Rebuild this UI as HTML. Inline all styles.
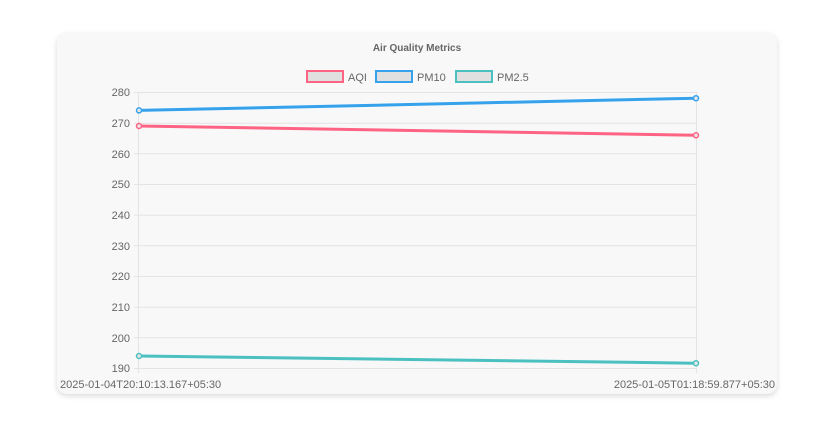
<!DOCTYPE html>
<html><head><style>
body{margin:0;width:828px;height:423px;background:#fff;font-family:"Liberation Sans",Arial,sans-serif;overflow:hidden}
.card{position:absolute;left:57px;top:33px;width:720px;height:361px;background:#f8f8f8;border-radius:10px;box-shadow:0 2px 6px rgba(0,0,0,0.15)}
svg{position:absolute;left:0;top:0}
</style></head><body>
<div class="card"></div>
<svg width="828" height="423" font-family="Liberation Sans, Arial, sans-serif">
<text x="417" y="51" font-size="10" font-weight="bold" fill="#666" text-anchor="middle">Air Quality Metrics</text>
<g font-size="11" fill="#666">
<rect x="307" y="71" width="36" height="11" fill="#e0e0e0" stroke="#ff6384" stroke-width="2"/><text x="348" y="81">AQI</text>
<rect x="376" y="71" width="36" height="11" fill="#e0e0e0" stroke="#36a2eb" stroke-width="2"/><text x="417" y="81">PM10</text>
<rect x="456" y="71" width="36" height="11" fill="#e0e0e0" stroke="#4bc0c0" stroke-width="2"/><text x="497" y="81">PM2.5</text>
</g>
<g stroke="#e4e4e4" stroke-width="1">
<line x1="134" y1="92.5" x2="697" y2="92.5"/><line x1="134" y1="123.2" x2="697" y2="123.2"/><line x1="134" y1="153.8" x2="697" y2="153.8"/><line x1="134" y1="184.5" x2="697" y2="184.5"/><line x1="134" y1="215.2" x2="697" y2="215.2"/><line x1="134" y1="245.8" x2="697" y2="245.8"/><line x1="134" y1="276.5" x2="697" y2="276.5"/><line x1="134" y1="307.2" x2="697" y2="307.2"/><line x1="134" y1="337.8" x2="697" y2="337.8"/><line x1="134" y1="368.5" x2="697" y2="368.5"/>
<line x1="138.5" y1="92" x2="138.5" y2="373"/><line x1="696.5" y1="92" x2="696.5" y2="373"/>
</g>
<g font-size="11" fill="#666" text-anchor="end">
<text x="130" y="96">280</text><text x="130" y="127">270</text><text x="130" y="158">260</text><text x="130" y="188">250</text><text x="130" y="219">240</text><text x="130" y="250">230</text><text x="130" y="280">220</text><text x="130" y="311">210</text><text x="130" y="342">200</text><text x="130" y="372">190</text>
</g>
<text x="60" y="388" font-size="11" fill="#666">2025-01-04T20:10:13.167+05:30</text>
<text x="775" y="388" font-size="11" fill="#666" text-anchor="end">2025-01-05T01:18:59.877+05:30</text>
<g stroke-width="3" fill="none">
<line x1="139" y1="110.4" x2="696" y2="98.2" stroke="#36a2eb"/>
<line x1="139" y1="126" x2="696" y2="135.3" stroke="#ff6384"/>
<line x1="139" y1="356" x2="696" y2="363.2" stroke="#4bc0c0"/>
</g>
<g stroke-width="1.5" fill="#e8e8e8">
<circle cx="139" cy="110.4" r="2.5" stroke="#36a2eb"/><circle cx="696" cy="98.2" r="2.5" stroke="#36a2eb"/>
<circle cx="139" cy="126" r="2.5" stroke="#ff6384"/><circle cx="696" cy="135.3" r="2.5" stroke="#ff6384"/>
<circle cx="139" cy="356" r="2.5" stroke="#4bc0c0"/><circle cx="696" cy="363.2" r="2.5" stroke="#4bc0c0"/>
</g>
</svg>
</body></html>
